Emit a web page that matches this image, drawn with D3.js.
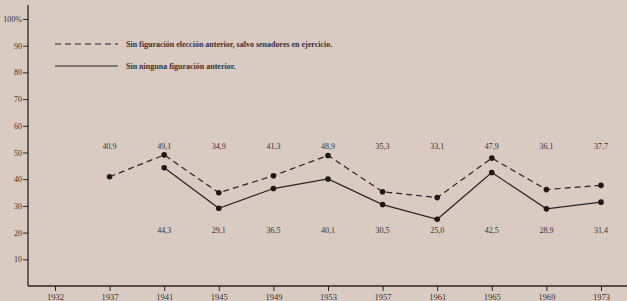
<!DOCTYPE html>
<html>
<head>
<meta charset="utf-8">
<script src="https://cdn.jsdelivr.net/npm/d3@7"></script>
<style>
  body { margin: 0; background: #d9cbc2; }
  svg text { font-family: "Liberation Serif", "DejaVu Serif", serif; fill: #3a3030; }
</style>
</head>
<body>
<div id="chart"></div>
<script>
// data
var years = ["1932", "1937", "1941", "1945", "1949", "1953", "1957", "1961", "1965", "1969", "1973"];
var dashedYears = ["1937", "1941", "1945", "1949", "1953", "1957", "1961", "1965", "1969", "1973"];
var dashedValues = [40.9, 49.1, 34.9, 41.3, 48.9, 35.3, 33.1, 47.9, 36.1, 37.7];
var solidYears = ["1941", "1945", "1949", "1953", "1957", "1961", "1965", "1969", "1973"];
var solidValues = [44.3, 29.1, 36.5, 40.1, 30.5, 25.0, 42.5, 28.9, 31.4];
var yTicks = [10, 20, 30, 40, 50, 60, 70, 80, 90, 100];
var legendLabels = ["Sin figuración elección anterior, salvo senadores en ejercicio.", "Sin ninguna figuración anterior."];

var W = 627, H = 301;
var ink = "#2b2323";

var svg = d3.select("#chart")
    .append("svg")
    .attr("width", W)
    .attr("height", H);

var x = d3.scalePoint()
    .domain(years)
    .range([55, 601]);

var y = d3.scaleLinear()
    .domain([0, 100])
    .range([286, 19]);

// y axis
var yAxis = svg.append("g")
    .attr("transform", "translate(28,0)")
    .call(d3.axisLeft(y).tickValues(yTicks).tickSize(5).tickSizeOuter(0)
        .tickFormat(function (d) { return d === 100 ? "100%" : d; }));
yAxis.select(".domain").remove();
yAxis.selectAll("line").attr("stroke", ink);
yAxis.selectAll("text").attr("font-size", 8).attr("x", -6);
svg.append("line")
    .attr("x1", 28).attr("x2", 28)
    .attr("y1", 5).attr("y2", 286)
    .attr("stroke", ink).attr("stroke-width", 1.3);

// x axis
var xAxis = svg.append("g")
    .attr("transform", "translate(0,286)")
    .call(d3.axisBottom(x).tickSize(5).tickSizeOuter(0));
xAxis.select(".domain").remove();
xAxis.selectAll("line").attr("stroke", ink);
xAxis.selectAll("text").attr("font-size", 8.5).attr("y", 8);
svg.append("line")
    .attr("x1", 28).attr("x2", W)
    .attr("y1", 286).attr("y2", 286)
    .attr("stroke", ink).attr("stroke-width", 1.3);

var line = d3.line()
    .x(function (d) { return x(d.year); })
    .y(function (d) { return y(d.value); });

var dashed = dashedYears.map(function (yr, i) { return { year: yr, value: dashedValues[i] }; });
var solid = solidYears.map(function (yr, i) { return { year: yr, value: solidValues[i] }; });

svg.append("path")
    .datum(dashed)
    .attr("d", line)
    .attr("fill", "none")
    .attr("stroke", ink)
    .attr("stroke-width", 1.2)
    .attr("stroke-dasharray", "6,4");

svg.append("path")
    .datum(solid)
    .attr("d", line)
    .attr("fill", "none")
    .attr("stroke", ink)
    .attr("stroke-width", 1.2);

svg.selectAll("circle.d")
    .data(dashed.concat(solid))
    .enter()
    .append("circle")
    .attr("cx", function (d) { return x(d.year); })
    .attr("cy", function (d) { return y(d.value); })
    .attr("r", 2.8)
    .attr("fill", "#1e1818");

// value labels
svg.selectAll("text.top")
    .data(dashed)
    .enter()
    .append("text")
    .attr("x", function (d) { return x(d.year); })
    .attr("y", 149)
    .attr("text-anchor", "middle")
    .attr("font-size", 8)
    .text(function (d) { return d.value.toFixed(1).replace(".", ","); });

svg.selectAll("text.bottom")
    .data(solid)
    .enter()
    .append("text")
    .attr("x", function (d) { return x(d.year); })
    .attr("y", 233)
    .attr("text-anchor", "middle")
    .attr("font-size", 8)
    .text(function (d) { return d.value.toFixed(1).replace(".", ","); });

// legend
var legend = svg.append("g");
legendLabels.forEach(function (lbl, i) {
    var ly = 44 + i * 22;
    legend.append("line")
        .attr("x1", 55).attr("x2", 118)
        .attr("y1", ly).attr("y2", ly)
        .attr("stroke", ink).attr("stroke-width", 1.2)
        .attr("stroke-dasharray", i === 0 ? "6,4" : null);
    legend.append("text")
        .attr("x", 126).attr("y", ly + 2.5)
        .attr("font-size", 8)
        .attr("font-weight", "bold")
        .text(lbl);
});
</script>
</body>
</html>
